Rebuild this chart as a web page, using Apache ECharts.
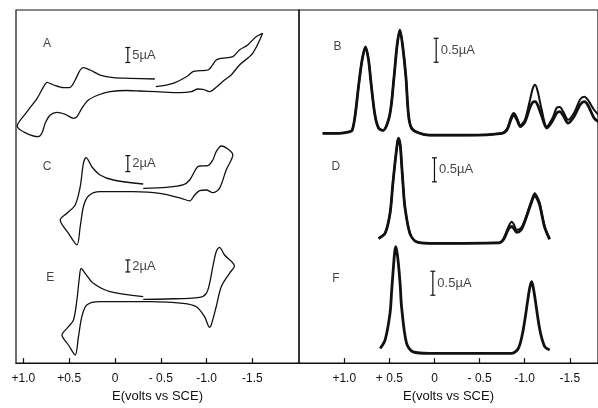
<!DOCTYPE html>
<html>
<head>
<meta charset="utf-8">
<script src="https://cdn.jsdelivr.net/npm/echarts@6/dist/echarts.min.js"></script>
<style>html,body{margin:0;padding:0;background:#fff}#c{width:598px;height:408px}</style>
</head>
<body>
<div id="c"></div>
<script>
// ---------- tick labels ----------
const tickValues = [1.0, 0.5, 0, -0.5, -1.0, -1.5];
const leftTickLabels = ['+1.0', '+0.5', '0', '- 0.5', '-1.0', '-1.5'];
const rightTickLabels = ['+1.0', '+ 0.5', '0', '- 0.5', '-1.0', '-1.5'];
const axisTitle = 'E(volts vs SCE)';

// ---------- cyclic voltammogram A (E in V, I in µA, offset scale) ----------
const aE = [-0.446,-0.634,-0.779,-0.851,-0.924,-1.014,-1.105,-1.160,-1.286,-1.359,-1.449,-1.540,-1.612,
  -1.503,-1.359,-1.268,-1.196,-1.105,-1.033,-0.960,-0.905,-0.834,-0.707,-0.453,-0.272,-0.127,0.054,0.182,0.290,0.362,0.416,0.453,0.543,0.634,0.707,0.761,0.797,0.837,1.068,
  0.960,0.851,0.779,0.742,0.671,0.562,0.489,0.435,0.380,0.345,0.272,0.163,0.018,-0.163,-0.435];
const aI = [19.43,20.57,22.77,24.43,24.77,25.0,28.33,28.9,29.43,31.67,33.33,36.1,37.23,
  30.57,26.67,23.33,21.67,19.23,17.77,18.57,18.67,17.77,17.43,17.77,18.0,18.17,17.77,16.67,15.0,12.23,9.43,8.9,10.23,10.9,10.0,7.33,4.0,2.77,6.4,
  11.1,15.57,19.43,20.9,20.0,19.1,19.23,21.67,25.0,25.77,25.0,23.33,22.43,22.23,22.0];

// ---------- cyclic voltammogram C ----------
const cE = [-0.308,-0.562,-0.742,-0.815,-0.888,-0.924,-1.014,-1.068,-1.105,-1.160,-1.286,-1.214,-1.141,-1.068,-0.997,-0.924,-0.870,-0.815,-0.725,-0.489,
  -0.199,0.163,0.290,0.345,0.380,0.416,0.508,0.598,0.525,0.435,0.380,0.345,0.315,0.253,0.163,0.018,-0.308];
const cI = [7.71,7.84,8.13,8.75,10.21,10.5,10.54,11.25,12.29,13.0,11.88,10.0,7.71,7.16,7.5,7.41,6.88,6.13,6.46,7.09,
  7.29,7.29,6.75,5.41,2.91,0.63,2.09,3.75,4.59,5.63,7.91,10.84,11.54,10.41,9.38,8.75,8.25];

// ---------- cyclic voltammogram E ----------
const eE = [-0.308,-0.562,-0.924,-0.997,-1.033,-1.068,-1.105,-1.141,-1.196,-1.304,-1.25,-1.160,-1.105,-1.051,-1.033,-0.978,-0.888,-0.742,-0.380,0.163,
  0.308,0.362,0.399,0.435,0.508,0.579,0.508,0.453,0.416,0.388,0.370,0.326,0.236,0.054,-0.308];
const eI = [10.12,10.17,10.45,11.12,12.78,15.55,18.05,18.78,17.5,15.67,14.45,12.22,8.88,5.83,5.45,7.22,8.88,9.45,9.72,9.72,
  9.17,7.22,3.88,0.83,2.5,4.17,5.55,6.67,10.0,13.88,15.28,14.45,12.78,11.38,10.55];

// ---------- differential pulse voltammogram B (two overlapping scans) ----------
const bE = [1.240,1.054,0.945,0.911,0.879,0.838,0.802,0.765,0.731,0.703,0.660,0.620,0.570,0.496,0.448,0.414,0.383,0.354,0.317,0.288,0.255,0.179,0.055,-0.369,-0.748,
  -0.806,-0.850,-0.880,-0.915,-0.952,-1.003,-1.058,-1.091,-1.116,-1.146,-1.189,-1.244,-1.309,-1.354,-1.389,-1.430,-1.482,-1.551,-1.616,-1.663,-1.703,-1.769,-1.82];
const bUpper = [0.14,0.14,0.17,0.21,0.52,1.18,1.67,1.94,1.67,1.18,0.52,0.25,0.2,0.52,1.32,1.98,2.29,1.98,1.32,0.52,0.25,0.15,0.10,0.10,0.14,
  0.24,0.48,0.56,0.46,0.31,0.42,0.83,1.08,1.15,1.0,0.63,0.28,0.46,0.67,0.69,0.58,0.42,0.58,0.85,0.90,0.83,0.63,0.52];
const bLower = [0.14,0.14,0.17,0.21,0.52,1.18,1.67,1.94,1.67,1.18,0.52,0.25,0.2,0.52,1.32,1.98,2.29,1.98,1.32,0.52,0.25,0.15,0.10,0.10,0.14,
  0.22,0.44,0.52,0.42,0.28,0.38,0.68,0.79,0.80,0.72,0.50,0.25,0.40,0.56,0.59,0.50,0.35,0.50,0.74,0.80,0.72,0.46,0.38];

// ---------- differential pulse voltammogram D ----------
const dE = [0.620,0.547,0.493,0.463,0.438,0.414,0.400,0.380,0.365,0.348,0.328,0.273,0.200,0.055,-0.712,
  -0.766,-0.821,-0.857,-0.883,-0.912,-0.960,-1.003,-1.077,-1.112,-1.146,-1.168,-1.222,-1.277];
const dUpper = [0.24,0.35,0.76,1.35,1.81,2.19,2.33,2.19,1.81,1.35,0.90,0.35,0.17,0.14,0.15,
  0.24,0.49,0.59,0.52,0.42,0.46,0.63,1.04,1.18,1.08,0.97,0.49,0.24];
const dLower = [0.24,0.35,0.76,1.35,1.81,2.19,2.33,2.19,1.81,1.35,0.90,0.35,0.17,0.14,0.15,
  0.22,0.44,0.49,0.44,0.37,0.42,0.60,1.0,1.14,1.04,0.93,0.47,0.22];

// ---------- differential pulse voltammogram F ----------
const fE = [0.602,0.547,0.493,0.474,0.455,0.441,0.430,0.416,0.400,0.380,0.365,0.310,0.237,0.055,
  -0.857,-0.930,-0.984,-1.040,-1.058,-1.077,-1.094,-1.112,-1.168,-1.222,-1.277];
const fI = [0.24,0.42,0.97,1.46,1.94,2.25,2.36,2.25,2.01,1.56,1.11,0.35,0.17,0.14,
  0.14,0.24,0.63,1.32,1.52,1.63,1.52,1.32,0.63,0.28,0.21];

// ---------- panel letters and current scale bars ----------
const panelNames = ['A', 'C', 'E', 'B', 'D', 'F'];
const panelLetterE = [0.742, 0.742, 0.707, 1.075, 1.094, 1.094];
const panelLetterI = [33.9, 10.41, 13.67, 1.94, 1.735, 1.70];
const scaleBarText = ['5\u00b5A', '2\u00b5A', '2\u00b5A', '0.5\u00b5A', '0.5\u00b5A', '0.5\u00b5A'];
const scaleBarE = [-0.14, -0.14, -0.14, -0.019, 0.0, 0.018];
const scaleBarLow = [27.5, 9.8, 14.67, 1.62, 1.42, 1.35];
const scaleBarHigh = [32.5, 11.8, 16.67, 2.12, 1.92, 1.85];

// ---------- build ----------
const zip = (xs, ys) => xs.map((x, i) => [x, ys[i]]);
const FONT = 'Liberation Sans';
const INK = '#111';

const LEFT = { left: 16, right: 299, min: -2.009, max: 1.081 };
const RIGHT = { left: 299, right: -4, min: -1.813, max: 1.502 };

const grids = [
  { left: LEFT.left, right: LEFT.right, top: 10, bottom: 43, show: true, borderColor: INK, borderWidth: 1.2 },
  { left: LEFT.left, right: LEFT.right, top: 10, bottom: 263 },
  { left: LEFT.left, right: LEFT.right, top: 122, bottom: 158 },
  { left: LEFT.left, right: LEFT.right, top: 240, bottom: 48 },
  { left: RIGHT.left, right: RIGHT.right, top: 10, bottom: 43, show: true, borderColor: INK, borderWidth: 1.2 },
  { left: RIGHT.left, right: RIGHT.right, top: 8, bottom: 268 },
  { left: RIGHT.left, right: RIGHT.right, top: 118, bottom: 158 },
  { left: RIGHT.left, right: RIGHT.right, top: 228, bottom: 48 }
];
const yRanges = [[0, 1], [0, 45], [0, 16], [0, 20], [0, 1], [0, 2.75], [0, 2.75], [0, 2.75]];

function frameAxis(gi, side, labels) {
  return {
    gridIndex: gi, type: 'value', inverse: true, min: side.min, max: side.max,
    axisLine: { show: true, lineStyle: { color: INK, width: 1.2 } },
    axisTick: { show: true, inside: true, length: 5, customValues: tickValues, lineStyle: { color: INK, width: 1.2 } },
    axisLabel: {
      show: true, customValues: tickValues, margin: 10, color: INK, fontSize: 12, fontFamily: FONT,
      formatter: (v) => { const k = tickValues.findIndex(t => Math.abs(t - v) < 1e-6); return k >= 0 ? labels[k] : ''; }
    },
    splitLine: { show: false },
    name: axisTitle, nameLocation: 'middle', nameGap: 25,
    nameTextStyle: { color: INK, fontSize: 13, fontFamily: FONT }
  };
}
function hiddenAxis(gi, side) {
  return { gridIndex: gi, type: 'value', inverse: true, min: side.min, max: side.max, show: false, splitLine: { show: false } };
}
const xAxes = [frameAxis(0, LEFT, leftTickLabels), hiddenAxis(1, LEFT), hiddenAxis(2, LEFT), hiddenAxis(3, LEFT),
  frameAxis(4, RIGHT, rightTickLabels), hiddenAxis(5, RIGHT), hiddenAxis(6, RIGHT), hiddenAxis(7, RIGHT)];
const yAxes = yRanges.map((r, i) => ({ gridIndex: i, type: 'value', min: r[0], max: r[1], show: false, splitLine: { show: false } }));

function curve(gi, data, width) {
  return {
    type: 'line', xAxisIndex: gi, yAxisIndex: gi, data: data, showSymbol: false, smooth: 0.3,
    lineStyle: { color: INK, width: width }, silent: true, animation: false
  };
}
const series = [
  curve(1, zip(aE, aI), 1.3),
  curve(2, zip(cE, cI), 1.3),
  curve(3, zip(eE, eI), 1.3),
  curve(5, zip(bE, bUpper), 2.0),
  curve(5, zip(bE, bLower), 2.8),
  curve(6, zip(dE, dUpper), 2.0),
  curve(6, zip(dE, dLower), 2.8),
  curve(7, zip(fE, fI), 2.8)
];
const curveGrids = [1, 2, 3, 5, 6, 7];
curveGrids.forEach((gi, k) => {
  series.push({
    type: 'line', xAxisIndex: gi, yAxisIndex: gi,
    data: [[scaleBarE[k], scaleBarLow[k]], [scaleBarE[k], scaleBarHigh[k]]],
    showSymbol: true, symbol: 'rect', symbolSize: [5, 1.2],
    itemStyle: { color: INK }, lineStyle: { color: INK, width: 1.2 }, silent: true, animation: false
  });
  series.push({
    type: 'scatter', xAxisIndex: gi, yAxisIndex: gi, symbolSize: 1, itemStyle: { color: 'rgba(0,0,0,0)' },
    data: [{ value: [scaleBarE[k], (scaleBarLow[k] + scaleBarHigh[k]) / 2] }],
    label: { show: true, position: 'right', distance: 4, formatter: scaleBarText[k], color: INK, fontSize: 13, fontFamily: FONT },
    silent: true, animation: false
  });
  series.push({
    type: 'scatter', xAxisIndex: gi, yAxisIndex: gi, symbolSize: 1, itemStyle: { color: 'rgba(0,0,0,0)' },
    data: [{ value: [panelLetterE[k], panelLetterI[k]] }],
    label: { show: true, position: 'inside', formatter: panelNames[k], color: INK, fontSize: 12, fontFamily: FONT },
    silent: true, animation: false
  });
});

const chart = echarts.init(document.getElementById('c'), null, { renderer: 'canvas' });
chart.setOption({
  backgroundColor: '#ffffff',
  animation: false,
  grid: grids,
  xAxis: xAxes,
  yAxis: yAxes,
  series: series
});
</script>
</body>
</html>
